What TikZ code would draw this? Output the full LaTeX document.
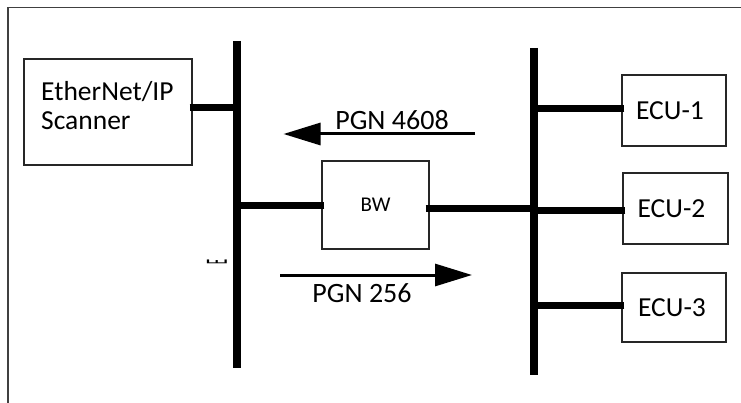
\documentclass[tikz,border=0pt]{standalone}
\usepackage{fontspec}
\setmainfont{Carlito}
\usetikzlibrary{arrows.meta}
\begin{document}
\begin{tikzpicture}[x=1pt,y=-1pt,
  box/.style={draw=black!85, line width=1.3pt, fill=white, inner sep=0pt},
  bus/.style={line width=7.5pt, line cap=butt},
  conn/.style={line width=7pt, line cap=butt},
  flow/.style={line width=3pt, -{Triangle[length=37pt,width=22pt]}},
  lbl/.style={font=\fontsize{27.5}{29}\selectfont},
  pgn/.style={font=\fontsize{28}{32}\selectfont, anchor=base, inner sep=0pt},
]
\useasboundingbox (0,0) rectangle (741,403);
\fill[white] (0,0) rectangle (741,403);
% cropped frame
\draw[line width=1.5pt, black!75] (8,403) -- (8,7.5) -- (741,7.5);

% buses
\coordinate (lbtop) at (237,41);
\coordinate (lbbot) at (237,368);
\coordinate (rbtop) at (534,48);
\coordinate (rbbot) at (534,375);
\draw[bus] (lbtop) -- (lbbot);
\draw[bus] (rbtop) -- (rbbot);

% boxes
\node[box, minimum width=168pt, minimum height=106pt] (scanner) at (108,112) {};
\node[lbl, align=left, anchor=west, inner sep=0pt] (scannertext) at (41,105.5) {EtherNet/IP\\Scanner};
\node[box, minimum width=107pt, minimum height=88pt, font=\fontsize{21}{24}\selectfont] (bw) at (375.5,205) {BW};
\node[box, lbl, minimum width=104pt, minimum height=71pt] (ecu1) at (674,110.5) {\hspace*{-8pt}ECU-1};
\node[box, lbl, minimum width=105pt, minimum height=71pt] (ecu2) at (675.5,208.5) {\hspace*{-8pt}ECU-2};
\node[box, lbl, minimum width=104pt, minimum height=69pt] (ecu3) at (674,307.5) {\hspace*{-4pt}ECU-3};

% connectors
\draw[conn] ([xshift=-3pt,yshift=4.3pt]scanner.east) -- ([yshift=4.3pt]scanner.east -| lbtop);
\draw[conn] ([xshift=3pt,yshift=-1pt]bw.west) -- ([yshift=-1pt]bw.west -| lbtop);
\draw[conn] ([xshift=-4pt,yshift=-4pt]bw.east) -- ([yshift=-4pt]bw.east -| rbtop);
\draw[conn] ([xshift=3pt,yshift=1.5pt]ecu1.west) -- ([yshift=1.5pt]ecu1.west -| rbtop);
\draw[conn] ([xshift=3pt,yshift=-2.5pt]ecu2.west) -- ([yshift=-2.5pt]ecu2.west -| rbtop);
\draw[conn] ([xshift=3pt,yshift=2.5pt]ecu3.west) -- ([yshift=2.5pt]ecu3.west -| rbtop);

% message arrows
\coordinate (a1s) at (475,134);
\coordinate (a1e) at (283.5,134);
\draw[flow] (a1s) -- (a1e);
\node[pgn] (pgn4608) at (392,130) {PGN 4608};
\coordinate (a2s) at (280,275);
\coordinate (a2e) at (472,275);
\draw[flow] (a2s) -- (a2e);
\node[pgn] (pgn256) at (362,302) {PGN 256};

% small rotated E beside the bus
\node[rotate=90, inner sep=0pt, font=\fontsize{31}{31}\selectfont] (elabel) at (217,262.5) {\scalebox{0.33}[1]{E}};
\end{tikzpicture}
\end{document}
